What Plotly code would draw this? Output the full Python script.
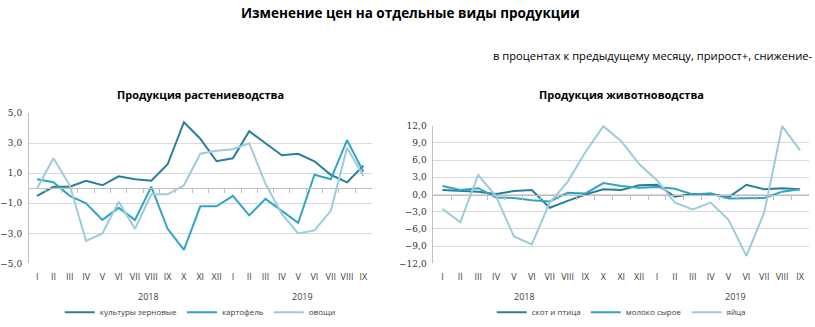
import plotly.graph_objects as go

months = ["I", "II", "III", "IV", "V", "VI", "VII", "VIII", "IX", "X", "XI", "XII",
          "I", "II", "III", "IV", "V", "VI", "VII", "VIII", "IX"]
years = ["2018", "2019"]

# Crop production, % change to previous month
grain = [-0.5, 0.1, 0.1, 0.5, 0.2, 0.8, 0.6, 0.5, 1.6, 4.4, 3.3, 1.8,
         2.0, 3.8, 3.0, 2.2, 2.3, 1.8, 0.9, 0.4, 1.5]
potato = [0.6, 0.4, -0.5, -1.0, -2.1, -1.3, -2.1, 0.1, -2.7, -4.1, -1.2, -1.2,
          -0.5, -1.8, -0.7, -1.5, -2.3, 0.9, 0.6, 3.2, 1.1]
vegetables = [0.0, 2.0, 0.2, -3.5, -3.0, -0.9, -2.7, -0.4, -0.4, 0.2, 2.3, 2.5,
              2.6, 3.0, 0.3, -1.7, -3.0, -2.8, -1.5, 2.7, 0.8]

# Livestock production, % change to previous month
cattle = [0.8, 0.6, 0.5, 0.1, 0.6, 0.8, -2.3, -1.1, 0.0, 0.9, 0.8, 1.6,
          1.7, -0.4, 0.1, 0.1, -0.5, 1.7, 0.9, 1.1, 0.9]
milk = [1.5, 0.8, 1.1, -0.5, -0.6, -1.0, -1.2, 0.3, 0.2, 2.0, 1.5, 1.2,
        1.3, 1.0, 0.0, 0.2, -0.7, -0.7, -0.6, 0.5, 0.9]
eggs = [-2.5, -4.8, 3.4, -0.3, -7.3, -8.7, -1.4, 2.2, 7.4, 11.9, 9.3, 5.3,
        2.5, -1.4, -2.6, -1.4, -4.4, -10.7, -3.1, 11.9, 7.7]

C_DARK = "#2a7f98"
C_MID = "#33a5c2"
C_LIGHT = "#9dcbdb"
FONT = "Open Sans"
W, H = 815, 327

xs = list(range(len(months)))
bounds = [i + 0.5 for i in range(len(months) - 1)]


def px_x(a, b):
    return [a / W, b / W]


def px_y(top, bottom):
    return [(H - bottom) / H, (H - top) / H]


panels = [
    dict(x=px_x(28, 371), y=px_y(113, 270), rng=[-5, 5], dtick=2, tick0=1,
         series=[("культуры зерновые", grain, C_DARK),
                 ("картофель", potato, C_MID),
                 ("овощи", vegetables, C_LIGHT)],
         year_at=[6.8, 16.25],
         title="Продукция растениеводства"),
    dict(x=px_x(433, 809), y=px_y(126, 270), rng=[-12, 12], dtick=3, tick0=0,
         series=[("скот и птица", cattle, C_DARK),
                 ("молоко сырое", milk, C_MID),
                 ("яйца", eggs, C_LIGHT)],
         year_at=[4.6, 16.4],
         title="Продукция животноводства"),
]

fig = go.Figure()
layout = dict(
    width=W, height=H, margin=dict(l=0, r=0, t=0, b=0),
    paper_bgcolor="white", plot_bgcolor="white",
    separators=", ", showlegend=True,
    font=dict(family=FONT, size=9, color="#404040"),
    annotations=[], shapes=[],
)

for k, p in enumerate(panels):
    n = k + 1
    xa = "x" if n == 1 else f"x{n}"
    ya = "y" if n == 1 else f"y{n}"
    zx = f"x{n + 2}"
    leg = "legend" if n == 1 else "legend2"
    for name, vals, col in p["series"]:
        fig.add_trace(go.Scatter(x=xs, y=vals, mode="lines", name=name,
                                 line=dict(color=col, width=2),
                                 xaxis=xa, yaxis=ya, legend=leg))
    # zero line with category-boundary ticks
    fig.add_trace(go.Scatter(x=[None], y=[None], xaxis=zx, yaxis=ya,
                             showlegend=False, hoverinfo="skip"))

    y0, y1 = p["y"]
    lo, hi = p["rng"]
    zero_pos = y0 + (0 - lo) / (hi - lo) * (y1 - y0)

    layout[f"xaxis{'' if n == 1 else n}"] = dict(
        domain=p["x"], anchor=ya, range=[-0.5, len(xs) - 0.5],
        tickmode="array", tickvals=xs, ticktext=months,
        showgrid=False, showline=False, zeroline=False, ticks="",
        ticklabelstandoff=7,
        tickfont=dict(size=9, color="#404040", family=FONT),
    )
    layout[f"xaxis{n + 2}"] = dict(
        overlaying=xa, anchor="free", position=zero_pos,
        range=[-0.5, len(xs) - 0.5], tickmode="array", tickvals=bounds,
        showticklabels=False, ticks="outside", ticklen=4, tickcolor="#bfbfbf",
        showline=True, linecolor="#bfbfbf", linewidth=1, showgrid=False,
        zeroline=False,
    )
    layout[f"yaxis{'' if n == 1 else n}"] = dict(
        domain=p["y"], anchor=xa, range=[lo, hi], tickmode="linear",
        tick0=p["tick0"], dtick=p["dtick"], tickformat=".1f",
        showgrid=True, gridcolor="#d9d9d9", gridwidth=1,
        showline=True, linecolor="#bfbfbf", zeroline=False,
        ticks="", ticklabelstandoff=4,
        tickfont=dict(size=9, color="#333333", family="DejaVu Serif"),
    )
    xc = (p["x"][0] + p["x"][1]) / 2
    layout["annotations"].append(dict(
        text=f"<b>{p['title']}</b>", x=xc, y=(H - 93) / H, xref="paper",
        yref="paper", showarrow=False, xanchor="center", yanchor="middle",
        font=dict(size=11, color="#000000", family=FONT)))
    # year labels under the month ticks
    for yr, xi in zip(years, p["year_at"]):
        layout["annotations"].append(dict(
            text=yr, x=xi, y=(H - 305) / H, xref=xa, yref="paper",
            showarrow=False, xanchor="center", yanchor="middle",
            font=dict(size=9, color="#404040", family=FONT)))
    layout[leg] = dict(
        orientation="h", x=xc, y=(H - 321) / H, xanchor="center",
        yanchor="middle", font=dict(size=8, color="#404040", family=FONT),
        itemwidth=30, tracegroupgap=0, bgcolor="rgba(0,0,0,0)",
    )

layout["annotations"].append(dict(
    text="<b>Изменение цен на отдельные виды продукции</b>",
    x=410 / W, y=(H - 8) / H, xref="paper", yref="paper", showarrow=False,
    xanchor="center", yanchor="middle",
    font=dict(size=13.5, color="#000000", family=FONT)))
layout["annotations"].append(dict(
    text="в процентах к предыдущему месяцу, прирост+, снижение-",
    x=815 / W, y=(H - 53) / H, xref="paper", yref="paper", showarrow=False,
    xanchor="right", yanchor="middle",
    font=dict(size=11.2, color="#000000", family=FONT)))

fig.update_layout(**layout)
fig.write_html("out.html")
